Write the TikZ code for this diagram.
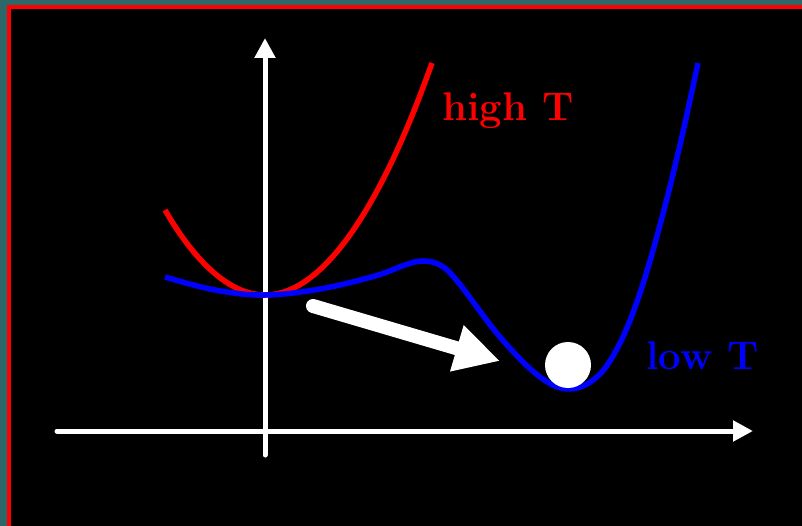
\documentclass[tikz,border=0pt]{standalone}
\usetikzlibrary{arrows.meta}
\definecolor{slideteal}{RGB}{44,104,106}
\begin{document}
\begin{tikzpicture}[x=1pt,y=-1pt,
  axisline/.style={white,line width=5pt,line cap=round,-{Triangle[length=20pt,width=20pt]}},
  curveline/.style={line width=5.5pt},
  labeltext/.style={inner sep=0pt,anchor=base west,font=\fontsize{40}{42}\selectfont\bfseries}]
\useasboundingbox (0,0) rectangle (802,526);
\fill[slideteal] (0,0) rectangle (802,526);
\fill[red] (7,5) rectangle (802,526);
\fill[black] (11,9) rectangle (802,526);
% axes
\coordinate (xs) at (57,431);
\coordinate (xe) at (753,431);
\coordinate (ys) at (265,455);
\coordinate (ye) at (265,38);
\draw[axisline] (xs) -- (xe);
\draw[axisline] (ys) -- (ye);
% high T curve
\coordinate (rl) at (165,210);
\coordinate (rv) at (265,295);
\coordinate (rr) at (432,63);
\draw[red,curveline] (rl) parabola bend (rv) (rr);
% low T curve
\draw[blue,curveline] plot[smooth,tension=0.6] coordinates {
 (165,277) (215,290) (265,295) (320,289) (375,276) (405,265) (422,261)
 (440,265) (458,282) (500,337) (540,377) (570,389) (598,376) (620,343)
 (640,293) (660,225) (680,145) (698,63)};
% ball and arrow
\node[circle,fill=white,minimum size=46pt,inner sep=0pt] (ball) at (568,365) {};
\coordinate (as) at (313,306);
\coordinate (ae) at (500,361);
\draw[white,line width=14pt,line cap=round,-{Triangle[length=45pt,width=45pt]}] (as) -- (ae);
% labels
\node[labeltext,red] (hT) at (442,121) {high T};
\node[labeltext,blue] (lT) at (646,369) {low T};
\end{tikzpicture}
\end{document}
